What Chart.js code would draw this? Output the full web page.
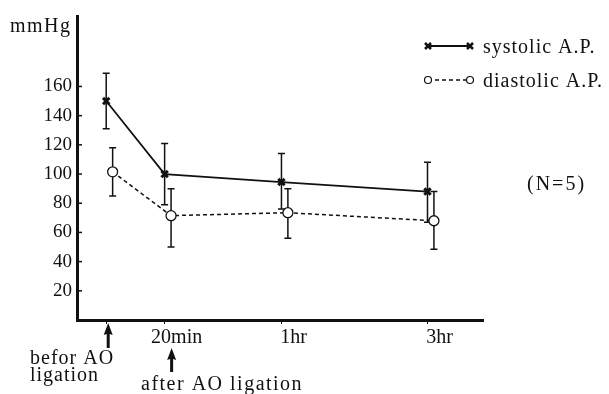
<!DOCTYPE html>
<html>
<head>
<meta charset="utf-8">
<script src="https://cdn.jsdelivr.net/npm/chart.js@4.4.1/dist/chart.umd.min.js"></script>
<style>
  html, body { margin: 0; padding: 0; background: #fff; }
  #wrap { width: 609px; height: 394px; }
</style>
</head>
<body>
<div id="wrap"><canvas id="chart" width="609" height="394"></canvas></div>
<script>
// time points: label and position on the (uneven) time axis
const timeLabels = ['befor', '20min', '1hr', '3hr'];
const timePos = [0, 20, 60, 110];

// systolic A.P. (mean, lower and upper end of bar)
const systolic = [150, 100, 94.5, 88];
const systolicLow = [131, 79, 76, 67];
const systolicHigh = [169, 121, 114, 108];

// diastolic A.P.
const diastolic = [101.5, 71.5, 73.5, 68];
const diastolicLow = [85, 50, 56, 48.5];
const diastolicHigh = [118, 90, 90, 88];

const yTicks = [20, 40, 60, 80, 100, 120, 140, 160];

const INK = '#111';
const FONT = "'Liberation Serif', 'Times New Roman', serif";
const DIA_SHIFT = 2.2; // diastolic marks sit a little right of the systolic ones

function toPoints(xs, ys, shift) {
  return xs.map((x, i) => ({ x: x + shift, y: ys[i] }));
}

// error bars, drawn under the markers
const errorBars = {
  id: 'errorBars',
  beforeDatasetsDraw(chart) {
    const ctx = chart.ctx;
    const y = chart.scales.y;
    chart.data.datasets.forEach((ds, di) => {
      const meta = chart.getDatasetMeta(di);
      ctx.save();
      ctx.strokeStyle = INK;
      ctx.lineWidth = 1.5;
      meta.data.forEach((pt, i) => {
        const top = y.getPixelForValue(ds.errHigh[i]);
        const bot = y.getPixelForValue(ds.errLow[i]);
        ctx.beginPath();
        ctx.moveTo(pt.x, top); ctx.lineTo(pt.x, bot);
        ctx.moveTo(pt.x - 3.5, top); ctx.lineTo(pt.x + 3.5, top);
        ctx.moveTo(pt.x - 3.5, bot); ctx.lineTo(pt.x + 3.5, bot);
        ctx.stroke();
      });
      ctx.restore();
    });
  }
};

function arrowUp(ctx, x, tipY, len) {
  ctx.beginPath();
  ctx.moveTo(x, tipY);
  ctx.lineTo(x + 4.5, tipY + 12);
  ctx.lineTo(x + 1.5, tipY + 11);
  ctx.lineTo(x + 1.5, tipY + len);
  ctx.lineTo(x - 1.5, tipY + len);
  ctx.lineTo(x - 1.5, tipY + 11);
  ctx.lineTo(x - 4.5, tipY + 12);
  ctx.closePath();
  ctx.fill();
}

const annotations = {
  id: 'annotations',
  afterDraw(chart) {
    const ctx = chart.ctx;
    const xs = chart.scales.x;
    const ys = chart.scales.y;
    const area = chart.chartArea;
    ctx.save();
    ctx.fillStyle = INK;
    ctx.strokeStyle = INK;

    // inward ticks on the y axis
    ctx.lineWidth = 1.5;
    yTicks.forEach(v => {
      const py = ys.getPixelForValue(v);
      ctx.beginPath();
      ctx.moveTo(area.left, py);
      ctx.lineTo(area.left + 5, py);
      ctx.stroke();
    });

    ctx.font = '20px ' + FONT;
    ctx.letterSpacing = '1px';
    ctx.textBaseline = 'alphabetic';
    ctx.textAlign = 'left';

    // unit
    ctx.letterSpacing = '1.5px';
    ctx.fillText('mmHg', 10, 32);
    ctx.letterSpacing = '1px';

    // legend
    const lx0 = 428, lx1 = 470;
    const rows = [
      { y: 46, text: 'systolic A.P.', ds: chart.data.datasets[0] },
      { y: 80, text: 'diastolic A.P.', ds: chart.data.datasets[1] }
    ];
    rows.forEach((r, i) => {
      ctx.save();
      ctx.lineWidth = r.ds.borderWidth;
      ctx.setLineDash(r.ds.borderDash || []);
      ctx.beginPath();
      ctx.moveTo(lx0, r.y); ctx.lineTo(lx1, r.y);
      ctx.stroke();
      ctx.restore();
      if (i === 0) {
        ctx.save();
        ctx.lineWidth = 2.5;
        [lx0, lx1].forEach(cx => {
          ctx.beginPath();
          ctx.moveTo(cx - 3, r.y - 3); ctx.lineTo(cx + 3, r.y + 3);
          ctx.moveTo(cx - 3, r.y + 3); ctx.lineTo(cx + 3, r.y - 3);
          ctx.stroke();
        });
        ctx.restore();
      } else {
        ctx.save();
        ctx.lineWidth = 1.2;
        [lx0, lx1].forEach(cx => {
          ctx.beginPath();
          ctx.arc(cx, r.y, 3.5, 0, Math.PI * 2);
          ctx.fillStyle = '#fff';
          ctx.fill();
          ctx.stroke();
        });
        ctx.restore();
      }
      ctx.fillText(r.text, 483, r.y + 7);
    });

    ctx.letterSpacing = '2px';
    ctx.fillText('(N=5)', 527, 190);
    ctx.letterSpacing = '1px';

    // arrows and notes under the time axis
    const bx = xs.getPixelForValue(timePos[0]) + 2;
    const ax = xs.getPixelForValue(timePos[1]) + 7;
    arrowUp(ctx, bx, area.bottom + 3, 25);
    arrowUp(ctx, ax, area.bottom + 28, 24);

    ctx.fillText('befor AO', 30, 364);
    ctx.fillText('ligation', 30, 381);
    ctx.letterSpacing = '1.5px';
    ctx.fillText('after AO ligation', 141, 390);

    ctx.restore();
  }
};

new Chart(document.getElementById('chart'), {
  type: 'line',
  data: {
    datasets: [
      {
        label: 'systolic A.P.',
        data: toPoints(timePos, systolic, 0),
        errLow: systolicLow,
        errHigh: systolicHigh,
        borderColor: INK,
        borderWidth: 1.8,
        pointStyle: 'crossRot',
        pointRadius: 4.5,
        pointBorderWidth: 3,
        pointBorderColor: INK,
        tension: 0
      },
      {
        label: 'diastolic A.P.',
        data: toPoints(timePos, diastolic, DIA_SHIFT),
        errLow: diastolicLow,
        errHigh: diastolicHigh,
        borderColor: INK,
        borderWidth: 1.5,
        borderDash: [4, 3],
        pointStyle: 'circle',
        pointRadius: 5,
        pointBorderWidth: 1.3,
        pointBorderColor: INK,
        pointBackgroundColor: '#fff',
        tension: 0
      }
    ]
  },
  options: {
    responsive: false,
    animation: false,
    devicePixelRatio: 1,
    layout: { padding: { left: 0, right: 126, top: 13, bottom: 34 } },
    plugins: {
      legend: { display: false },
      tooltip: { enabled: false }
    },
    scales: {
      x: {
        type: 'linear',
        min: -10,
        max: 129,
        afterBuildTicks: scale => { scale.ticks = timePos.map(v => ({ value: v })); },
        afterFit: scale => { scale.height = 40; },
        ticks: {
          callback: v => {
            const i = timePos.indexOf(v);
            return i > 0 ? timeLabels[i] : '';
          },
          labelOffset: 12,
          padding: 2,
          maxRotation: 0,
          color: INK,
          font: { family: FONT, size: 20 }
        },
        grid: { drawOnChartArea: false, drawTicks: true, tickLength: 4, color: INK, lineWidth: 1 },
        border: { color: INK, width: 3 }
      },
      y: {
        type: 'linear',
        min: 0,
        max: 208,
        afterBuildTicks: scale => { scale.ticks = yTicks.map(v => ({ value: v })); },
        afterFit: scale => { scale.width = 77; },
        ticks: {
          padding: 5,
          color: INK,
          font: { family: FONT, size: 19 }
        },
        grid: { drawOnChartArea: false, drawTicks: false },
        border: { color: INK, width: 3 }
      }
    }
  },
  plugins: [errorBars, annotations]
});
</script>
</body>
</html>
